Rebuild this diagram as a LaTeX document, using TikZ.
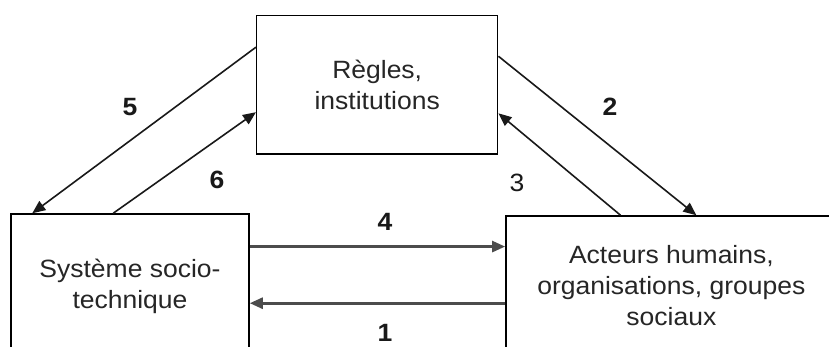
\documentclass[tikz,border=0pt]{standalone}
\usepackage{fontspec}
\setmainfont[FakeStretch=1.06]{Liberation Sans}
\usetikzlibrary{arrows.meta,calc}
\begin{document}
\begin{tikzpicture}[x=1pt,y=1pt,
  box/.style={draw=black,line width=1.5pt,fill=white,inner sep=0pt,align=center,
    font=\fontsize{25}{31}\selectfont,text=black!85},
  diag/.style={draw=black!90,line width=1.6pt,-{Triangle[length=13pt,width=11pt]}},
  horiz/.style={draw=black!70,line width=2.6pt,-{Triangle[length=13pt,width=11pt]}},
  num/.style={font=\fontsize{25}{30}\selectfont\bfseries,inner sep=0pt,text=black!90},
  numlight/.style={font=\fontsize{25}{30}\selectfont,inner sep=0pt,text=black!90}]
\clip (0,0) rectangle (829,347);
\fill[white] (0,0) rectangle (829,347);
\node[box,minimum width=241pt,minimum height=138.3pt] (top) at (377.2,262.2) {Règles,\\institutions};
\node[box,minimum width=238pt,minimum height=144pt] (left) at (130,61) {Système socio-\\technique};
\node[box,minimum width=331pt,minimum height=139pt] (right) at (671.4,61.5) {Acteurs humains,\\organisations, groupes\\sociaux};
% connector end points
\coordinate (a5) at ($(top.north west)!0.231!(top.south west)$);
\coordinate (b5) at ($(left.north west)!0.092!(left.north east)$);
\coordinate (a6) at ($(left.north west)!0.43!(left.north east)$);
\coordinate (b6) at ($(top.north west)!0.696!(top.south west)$);
\coordinate (a2) at ($(top.north east)!0.296!(top.south east)$);
\coordinate (b2) at ($(right.north west)!0.575!(right.north east)$);
\coordinate (a3) at ($(right.north west)!0.347!(right.north east)$);
\coordinate (b3) at ($(top.north east)!0.704!(top.south east)$);
\coordinate (a4) at ($(left.north east)!0.229!(left.south east)$);
\coordinate (a1) at ($(right.north west)!0.626!(right.south west)$);
\draw[diag] (a5) -- (b5);
\draw[diag] (a6) -- (b6);
\draw[diag] (a2) -- (b2);
\draw[diag] (a3) -- (b3);
\draw[horiz] (a4) -- (a4 -| right.west);
\draw[horiz] (a1) -- (a1 -| left.east);
\node[num] (n5) at (130,240) {5};
\node[num] (n6) at (217,167) {6};
\node[num] (n4) at (385,125) {4};
\node[num] (n1) at (385,14) {1};
\node[num] (n2) at (610,240) {2};
\node[numlight] (n3) at (517,164) {3};
\end{tikzpicture}
\end{document}
